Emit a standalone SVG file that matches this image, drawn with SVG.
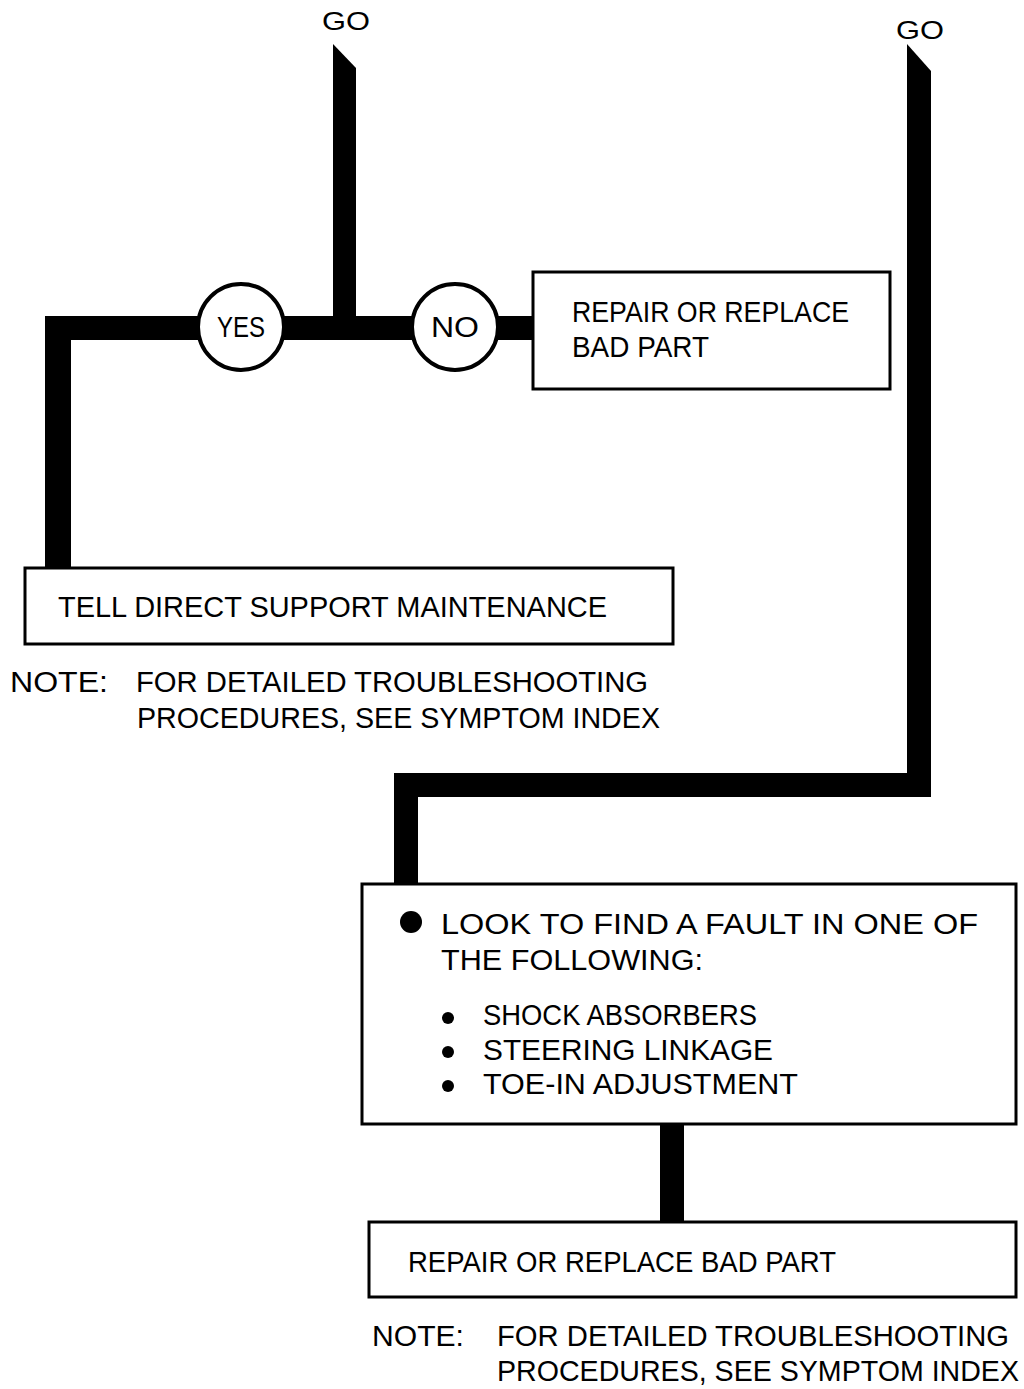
<svg xmlns="http://www.w3.org/2000/svg" width="1024" height="1389" viewBox="0 0 1024 1389">
<style>
text{font-family:"Liberation Sans","DejaVu Sans",sans-serif;fill:#000;font-size:29px}
.go{font-size:25px;text-anchor:middle}
.box{fill:#fff;stroke:#000;stroke-width:3}
.circ{fill:#fff;stroke:#000;stroke-width:4}
.bar{fill:#000}
</style>
<rect width="1024" height="1389" fill="#fff"/>
<g id="connectors">
<polygon class="bar" points="333,44 356,68 356,340 333,340"/>
<rect class="bar" x="45" y="316" width="488" height="24"/>
<rect class="bar" x="45" y="316" width="26" height="254"/>
<polygon class="bar" points="907,44 931,71 931,797 907,797"/>
<rect class="bar" x="394" y="773" width="537" height="24"/>
<rect class="bar" x="394" y="773" width="24" height="112"/>
<rect class="bar" x="660" y="1124" width="24" height="99"/>
</g>
<g id="go1"><text class="go" x="346" y="30" textLength="48" lengthAdjust="spacingAndGlyphs">GO</text></g>
<g id="go2"><text class="go" x="920" y="39" textLength="48" lengthAdjust="spacingAndGlyphs">GO</text></g>
<g id="yes">
<circle class="circ" cx="241" cy="327" r="43"/>
<text x="241" y="337" text-anchor="middle" font-size="27" textLength="48" lengthAdjust="spacingAndGlyphs">YES</text>
</g>
<g id="no">
<circle class="circ" cx="455" cy="327" r="43"/>
<text x="455" y="337" text-anchor="middle" font-size="27" textLength="48" lengthAdjust="spacingAndGlyphs">NO</text>
</g>
<g id="repair1">
<rect class="box" x="533" y="272" width="357" height="117"/>
<text x="572" y="322" textLength="277" lengthAdjust="spacingAndGlyphs">REPAIR OR REPLACE</text>
<text x="572" y="357" textLength="137" lengthAdjust="spacingAndGlyphs">BAD PART</text>
</g>
<g id="tell">
<rect class="box" x="25" y="568" width="648" height="76"/>
<text x="58" y="617" textLength="549" lengthAdjust="spacingAndGlyphs">TELL DIRECT SUPPORT MAINTENANCE</text>
</g>
<g id="note1">
<text x="10" y="692" textLength="98" lengthAdjust="spacingAndGlyphs">NOTE:</text>
<text x="136" y="692" textLength="512" lengthAdjust="spacingAndGlyphs">FOR DETAILED TROUBLESHOOTING</text>
<text x="137" y="728" textLength="523" lengthAdjust="spacingAndGlyphs">PROCEDURES, SEE SYMPTOM INDEX</text>
</g>
<g id="look">
<rect class="box" x="362" y="884" width="654" height="240"/>
<circle cx="411" cy="922" r="11" fill="#000"/>
<text x="441" y="934" textLength="537" lengthAdjust="spacingAndGlyphs">LOOK TO FIND A FAULT IN ONE OF</text>
<text x="441" y="970" textLength="262" lengthAdjust="spacingAndGlyphs">THE FOLLOWING:</text>
<circle cx="448" cy="1018" r="6" fill="#000"/>
<circle cx="448" cy="1052" r="6" fill="#000"/>
<circle cx="448" cy="1086" r="6" fill="#000"/>
<text x="483" y="1025" textLength="274" lengthAdjust="spacingAndGlyphs">SHOCK ABSORBERS</text>
<text x="483" y="1060" textLength="290" lengthAdjust="spacingAndGlyphs">STEERING LINKAGE</text>
<text x="483" y="1094" textLength="315" lengthAdjust="spacingAndGlyphs">TOE-IN ADJUSTMENT</text>
</g>
<g id="repair2">
<rect class="box" x="369" y="1222" width="647" height="75"/>
<text x="408" y="1272" textLength="428" lengthAdjust="spacingAndGlyphs">REPAIR OR REPLACE BAD PART</text>
</g>
<g id="note2">
<text x="372" y="1346" textLength="92" lengthAdjust="spacingAndGlyphs">NOTE:</text>
<text x="497" y="1346" textLength="512" lengthAdjust="spacingAndGlyphs">FOR DETAILED TROUBLESHOOTING</text>
<text x="497" y="1381" textLength="522" lengthAdjust="spacingAndGlyphs">PROCEDURES, SEE SYMPTOM INDEX</text>
</g>
</svg>
